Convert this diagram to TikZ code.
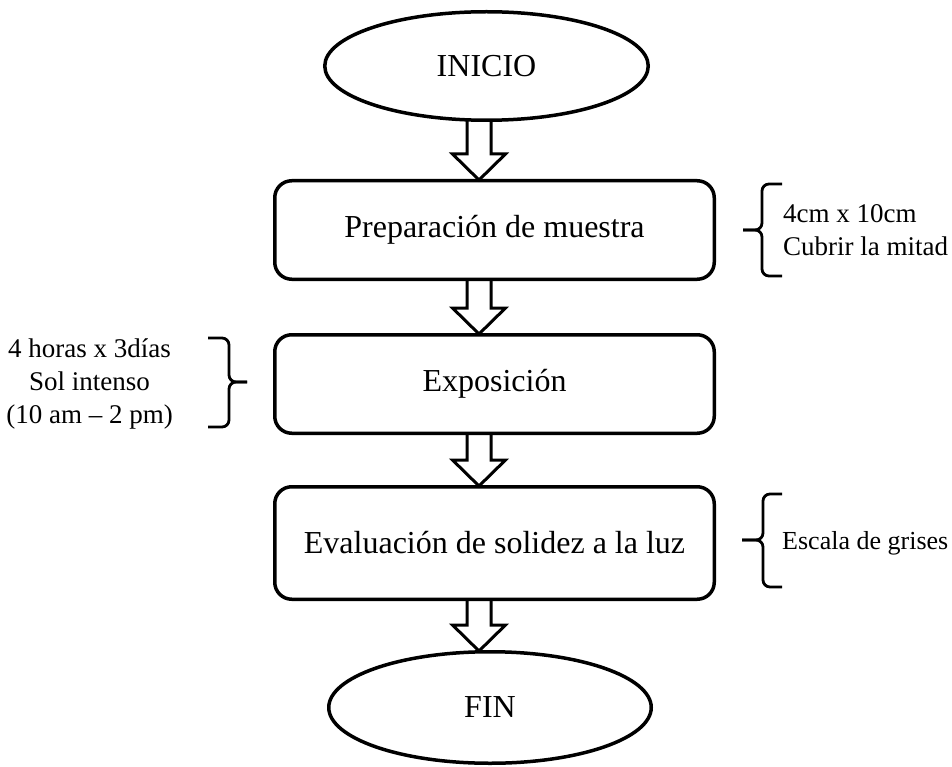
\documentclass[tikz,border=0pt]{standalone}
\usepackage{fontspec}
\setmainfont{Liberation Serif}
\usetikzlibrary{shapes.geometric,positioning,calc}

% llave: extremo, recta, punta, arriba, medio, abajo
\newcommand{\llave}[6]{%
  \draw[llave] (#1,#4) -- (#2,#4) -- (#2,#5) -- (#3,#5);
  \draw[llave] (#1,#6) -- (#2,#6) -- (#2,#5) -- (#3,#5);
}

\begin{document}
\begin{tikzpicture}[x=1pt,y=-1pt,
    terminal/.style={ellipse,draw,line width=3.5pt,minimum width=323.5pt,minimum height=108.5pt,font=\fontsize{32}{38}\selectfont},
    proceso/.style={rectangle,rounded corners=17pt,draw,line width=3.5pt,minimum width=439.5pt,minimum height=98.5pt,font=\fontsize{32}{38}\selectfont},
    nota/.style={inner sep=0pt,font=\fontsize{27}{33}\selectfont},
    flecha/.style={draw,line width=3pt,line join=miter},
    llave/.style={line width=2.8pt,rounded corners=7pt}]

    \useasboundingbox (0,0) rectangle (952,767);

    \node[terminal] (ini) at (486.5,66) {INICIO};
    \node[proceso] (prep) [below=57pt of ini,xshift=8pt] {Preparación de muestra};
    \node[proceso] (expo) [below=52pt of prep] {Exposición};
    \node[proceso,minimum height=112.5pt] (eval) [below=50pt of expo] {Evaluación de solidez a la luz};
    \node[terminal,minimum width=322.5pt,minimum height=111.5pt] (fin) [below=49pt of eval,xshift=-4.5pt] {FIN};

    \node[nota,align=left] (medida) [right=67pt of prep] {4cm x 10cm\\Cubrir la mitad};
    \node[nota,align=center] (sol) [left=100pt of expo] {4 horas x 3días\\Sol intenso\\(10 am – 2 pm)};
    \node[nota,font=\fontsize{26}{31}\selectfont] (gris) [right=66pt of eval] {Escala de grises};

    % flechas huecas
    \coordinate (eje) at (479,0);
    \foreach \a/\b in {ini/prep,prep/expo,expo/eval,eval/fin}
        \draw[flecha] let \p1=(\a.south), \p2=(\b.north), \p3=(eje) in
            (\x3-12pt,\y1+1pt) -- (\x3-12pt,\y2+25pt) -- (\x3-26.5pt,\y2+25pt) -- (\x3,\y2-1pt)
            -- (\x3+26.5pt,\y2+25pt) -- (\x3+12pt,\y2+25pt) -- (\x3+12pt,\y1+1pt);

    % llaves
    \llave{782}{762}{743}{184}{230}{276}
    \llave{208}{229}{247}{338}{382}{427}
    \llave{782}{763}{742}{494}{540}{587}

\end{tikzpicture}
\end{document}
